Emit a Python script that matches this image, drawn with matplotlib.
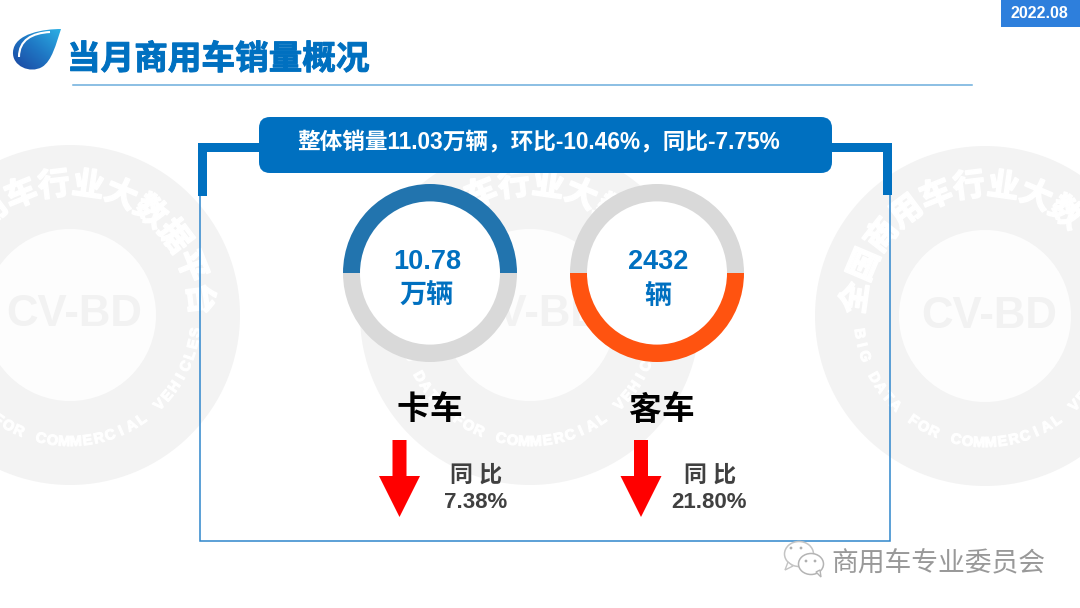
import numpy as np
import matplotlib
matplotlib.use('Agg')
import matplotlib.pyplot as plt
import matplotlib.patheffects as pe
from matplotlib.colors import LinearSegmentedColormap
from matplotlib.patches import Circle, Ellipse, FancyBboxPatch, PathPatch, Polygon, Rectangle
from matplotlib.path import Path

plt.rcParams['font.family'] = ['Liberation Sans', 'Noto Sans CJK SC', 'DejaVu Sans']

# 数据
title = '当月商用车销量概况'
date_tag = '2022.08'
summary = '整体销量11.03万辆，环比-10.46%，同比-7.75%'
categories = ['卡车', '客车']
center_values = ['10.78', '2432']
center_units = ['万辆', '辆']
ring_shares = [[50, 50], [50, 50]]
ring_colors = [['#2274AE', '#D9D9D9'], ['#D9D9D9', '#FF5310']]
yoy_label = '同 比'
yoy_values = ['7.38%', '21.80%']
footer = '商用车专业委员会'

BLUE = '#0070C0'
LINE = '#2F86CC'
GREY_TEXT = '#404040'

fig = plt.figure(figsize=(10.8, 6.08), dpi=100)
ax = fig.add_axes([0, 0, 1, 1])
ax.set_xlim(0, 1080)
ax.set_ylim(608, 0)
ax.axis('off')


def arc_text(cx, cy, r, text, a0, a1, size, stroke, top=True):
    angles = np.radians(np.linspace(a0, a1, len(text)))
    for ch, a in zip(text, angles):
        x = cx + r * np.cos(a)
        y = cy - r * np.sin(a)
        if x < -8 or x > 1088 or ch == ' ':
            continue  # 画布外的字不画
        rot = np.degrees(a) - 90 if top else np.degrees(a) + 90
        t = ax.text(x, y, ch, color='white', fontsize=size, fontweight='bold', rotation=rot,
                    rotation_mode='anchor', ha='center', va='center', zorder=2, clip_on=True,
                    family=['Liberation Sans', 'Noto Sans CJK SC'])
        t.set_path_effects([pe.withStroke(linewidth=stroke, foreground='white')])


# 水印
for cx, cy in [(70, 315), (530, 315), (985, 316)]:
    ax.add_patch(Circle((cx, cy), 170, fc='#F3F3F3', ec='none', zorder=1))
    ax.add_patch(Circle((cx, cy), 86, fc='#FDFDFD', ec='none', zorder=1))
    ax.text(cx + 4, cy, 'CV-BD', color='#F2F2F2', fontsize=31.5, fontweight='bold',
            ha='center', va='center', zorder=2, clip_on=True)
    arc_text(cx, cy, 129, '全国商用车行业大数据平台', 172, 7, 23, 1.2)
    arc_text(cx, cy, 127, 'BIG DATA FOR COMMERCIAL VEHICLES', 188, 352, 10.5, 0.8, top=False)

# 右上角日期
ax.add_patch(Rectangle((1001, 0), 79, 27, fc='#2E7FDC', ec='none', zorder=3))
ax.text(1039, 14, date_tag, color='white', fontsize=11.5, fontweight='bold',
        ha='center', va='center', zorder=4)

# 标题和logo
drop = Path([(61, 29), (45, 29), (14, 33), (13, 52), (12, 66), (30, 74), (42, 67), (52, 61), (56, 44), (61, 29)],
            [Path.MOVETO] + [Path.CURVE4] * 9)
patch = PathPatch(drop, fc='none', ec='none', zorder=4)
ax.add_patch(patch)
gx, gy = np.meshgrid(np.linspace(0, 1, 60), np.linspace(0, 1, 60))
grad = ax.imshow(gx - gy, extent=(12, 62, 70, 28), aspect='auto', zorder=4,
                 cmap=LinearSegmentedColormap.from_list('drop', ['#1B45A0', '#1F77C4', '#2CB2E6']))
grad.set_clip_path(patch)
ax.set_xlim(0, 1080)
ax.set_ylim(608, 0)
shine = Path([(50, 32), (32, 33), (19, 40), (19, 57)], [Path.MOVETO, Path.CURVE4, Path.CURVE4, Path.CURVE4])
ax.add_patch(PathPatch(shine, fc='none', ec='white', lw=1.5, zorder=5))
t = ax.text(67, 60, title, color=BLUE, fontsize=24.2, fontweight='bold', ha='left', va='center', zorder=4)
t.set_path_effects([pe.withStroke(linewidth=0.7, foreground=BLUE)])
ax.plot([73, 972], [85, 85], color='#6CAEDD', lw=1.1, zorder=3)

# 外框
ax.add_patch(Rectangle((199.5, 143.5), 690.5, 397.5, fc='none', ec=LINE, lw=1.1, zorder=3))
for pts in [[(198, 143), (260, 143), (260, 151.5), (206.5, 151.5), (206.5, 196), (198, 196)],
            [(830, 143), (891.5, 143), (891.5, 195), (883, 195), (883, 151.5), (830, 151.5)]]:
    ax.add_patch(Polygon(pts, fc=BLUE, ec='none', zorder=4))
ax.add_patch(FancyBboxPatch((269, 127), 553, 36, boxstyle='round,pad=10,rounding_size=11',
                            fc=BLUE, ec='none', zorder=5))
ax.text(539, 143, summary, color='white', fontsize=16.3, fontweight='bold',
        ha='center', va='center', zorder=6)

# 圆环
ring_x = [430, 657]
ring_y = 273
ring_rx = 87
ring_ry = 89
for i, cx in enumerate(ring_x):
    ax.add_patch(Ellipse((cx, ring_y), 146, 150, fc='white', ec='none', zorder=3))
    hx = ring_rx * 1.25
    hy = ring_ry * 1.25
    sub = fig.add_axes([(cx - hx) / 1080, (608 - ring_y - hy) / 608, 2 * hx / 1080, 2 * hy / 608])
    sub.pie(ring_shares[i], colors=ring_colors[i], startangle=0, counterclock=True,
            wedgeprops=dict(width=17 / ring_rx, edgecolor='none'))
    sub.set_aspect('auto')
    sub.patch.set_visible(False)

# 文字在最上层
top = fig.add_axes([0, 0, 1, 1])
top.set_xlim(0, 1080)
top.set_ylim(608, 0)
top.axis('off')
top.patch.set_visible(False)

value_x = [427, 658]
for i in range(2):
    top.text(value_x[i], 262, center_values[i], color=BLUE, fontsize=19.5, fontweight='bold', ha='center', va='center')
    top.text(value_x[i], 297, center_units[i], color=BLUE, fontsize=19.5, fontweight='bold', ha='center', va='center')

cat_x = [429.5, 661]
for i in range(2):
    top.text(cat_x[i] - 16.5, 411, categories[i][0], color='black', fontsize=23.5, fontweight='bold', ha='center', va='center')
    top.text(cat_x[i] + 16.5, 411, categories[i][1], color='black', fontsize=23.5, fontweight='bold', ha='center', va='center')

arrow_x = [399.5, 641]
for ax_c in arrow_x:
    top.add_patch(Polygon([(ax_c - 7, 440), (ax_c + 7, 440), (ax_c + 7, 476), (ax_c + 20.5, 476),
                           (ax_c, 517), (ax_c - 20.5, 476), (ax_c - 7, 476)], fc='#FF0000', ec='none'))

yoy_x = [476, 710]
for i in range(2):
    top.text(yoy_x[i], 475, yoy_label, color=GREY_TEXT, fontsize=16.5, fontweight='bold', ha='center', va='center')
    top.text(yoy_x[i] - (1 if i else 0), 502, yoy_values[i], color=GREY_TEXT, fontsize=16, fontweight='bold', ha='center', va='center')

# 公众号水印
top.add_patch(Ellipse((799, 554), 29, 25, fc='white', ec='#C4C4C4', lw=1.1))
top.add_patch(Ellipse((811, 564), 25, 21, fc='white', ec='#B4B4B4', lw=1.1))
top.add_patch(Polygon([(788, 562), (785, 570), (793, 566)], fc='white', ec='#C4C4C4', lw=1))
top.add_patch(Polygon([(816, 572), (821, 577), (820, 570)], fc='white', ec='#B4B4B4', lw=1))
for dx, dy in [(791, 548), (801, 548), (806, 561), (815, 561)]:
    top.add_patch(Circle((dx, dy), 1.4, fc='#B0B0B0', ec='none'))
top.text(938, 564, footer, color='#999999', fontsize=19.3, ha='center', va='center',
         family=['Noto Sans CJK SC', 'DejaVu Sans'], fontweight='light')

fig.savefig('out.png', dpi=100)
